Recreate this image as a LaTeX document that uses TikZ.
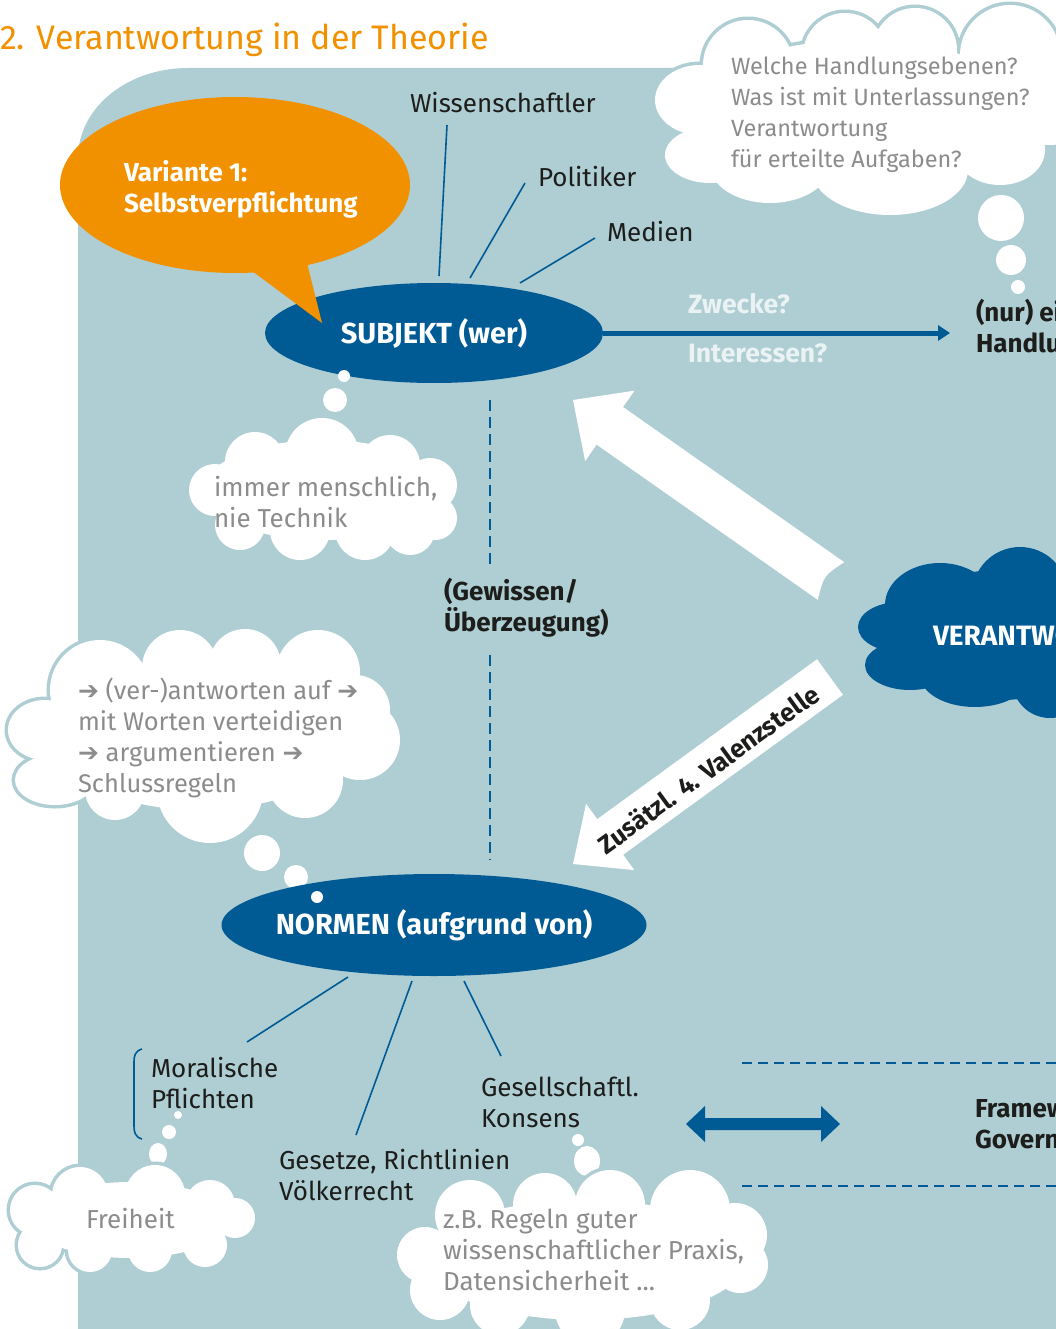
\documentclass[tikz,border=0pt]{standalone}
\usepackage{fontspec}
\setmainfont{Fira Sans}
\newfontfamily\arrowfont{DejaVu Sans}
\usetikzlibrary{shapes.geometric,arrows.meta,calc}
\definecolor{bgblue}{HTML}{AECED3}
\definecolor{dblue}{HTML}{005A94}
\definecolor{orng}{HTML}{F29100}
\definecolor{gtext}{HTML}{8C8C8C}
\definecolor{ltext}{HTML}{EAF2F4}
\definecolor{ink}{HTML}{1D1D1B}
\newcommand\wcloud[1]{%
  \foreach \cx/\cy/\rx/\ry in {#1}{\draw[bgblue,line width=7pt] (\cx,\cy) ellipse [x radius=\rx, y radius=\ry];}%
  \foreach \cx/\cy/\rx/\ry in {#1}{\fill[white] (\cx,\cy) ellipse [x radius=\rx, y radius=\ry];}%
}
\newcommand\bcloud[1]{%
  \foreach \cx/\cy/\rx/\ry in {#1}{\fill[dblue] (\cx,\cy) ellipse [x radius=\rx, y radius=\ry];}%
}
\newcommand\arr{{\arrowfont\fontsize{25}{31}\selectfont ➔}}
\begin{document}
\begin{tikzpicture}[x=1pt,y=-1pt,
  every node/.style={inner sep=0pt, outer sep=0pt},
  txt/.style={font=\fontsize{26}{31}\selectfont, align=left, text=ink},
  btxt/.style={font=\fontsize{26}{31}\selectfont\bfseries, align=left, text=ink},
  gtxt/.style={txt, text=gtext},
  conn/.style={draw=dblue, line width=1.6pt},
  dashline/.style={draw=dblue, line width=1.8pt, dash pattern=on 11pt off 6pt},
  oval/.style={ellipse, fill=dblue, text=white, inner xsep=-40pt, font=\fontsize{29}{31}\selectfont\bfseries},
]
\useasboundingbox (0,0) rectangle (1056,1329);
\clip (0,0) rectangle (1056,1329);

% background panel
\fill[bgblue] (78,1329) -- (78,158) .. controls (78,108) and (127,68) .. (188,68) -- (1056,68) -- (1056,1329) -- cycle;

% title
\node[anchor=base west, text=orng, font=\fontsize{34}{40}\selectfont] (title) at (0,50) {2. Verantwortung in der Theorie};

% top right thought cloud
\wcloud{860/110/165/70, 748/65/45/45, 845/55/42/42, 915/50/42/42, 1010/55/50/50, 700/100/45/35, 710/155/45/28, 770/165/60/38, 890/170/78/45, 1000/150/45/35, 1050/100/45/45}
\fill[white] (1001,218) circle [radius=23];
\fill[white] (1011,260) circle [radius=15];
\fill[white] (1018,287) circle [radius=7];
\node[gtxt, font=\fontsize{23.5}{31}\selectfont, anchor=base west] (q1) at (731,168) {Welche Handlungsebenen?\\Was ist mit Unterlassungen?\\Verantwortung\\für erteilte Aufgaben?};

% SUBJEKT
\node[oval, minimum width=338pt, minimum height=100pt] (subj) at (434,333) {SUBJEKT (wer)};

% orange speech bubble
\node[ellipse, fill=orng, minimum width=350pt, minimum height=176pt] (bubble) at (235,185) {};
\coordinate (tipA) at (240,262);
\coordinate (tipB) at (305,255);
\coordinate (tipC) at (322,323);
\fill[orng] (tipA) -- (tipC) -- (tipB) -- cycle;
\node[btxt, text=white, anchor=base west] (var) at (124,213) {Variante 1:\\Selbstverpflichtung};

% actor labels
\node[txt, anchor=base west] (wiss) at (410,113) {Wissenschaftler};
\node[txt, anchor=base west] (pol) at (538,187) {Politiker};
\node[txt, anchor=base west] (med) at (607,242) {Medien};
\coordinate (w1) at (439,276); \coordinate (w2) at (447,125);
\coordinate (p1) at (470,278); \coordinate (p2) at (525,183);
\coordinate (m1) at (520,283); \coordinate (m2) at (595,238);
\draw[conn] (w1) -- (w2);
\draw[conn] (p1) -- (p2);
\draw[conn] (m1) -- (m2);

% arrow to actions
\coordinate (nurE) at (950,333);
\draw[dblue, line width=5pt, -{Triangle[length=12pt,width=15pt]}] (subj.east) -- (nurE);
\node[btxt, font=\fontsize{26.5}{31}\selectfont\bfseries, text=ltext, anchor=base west] (zw) at (688,313) {Zwecke?};
\node[btxt, font=\fontsize{26.5}{31}\selectfont\bfseries, text=ltext, anchor=base west] (int) at (688,362) {Interessen?};
\node[btxt, anchor=base west] (nur) at (976,352) {(nur) eigene\\Handlungen};

% subject thought
\fill[white] (344,376) circle [radius=6];
\fill[white] (335,400) circle [radius=12];
\wcloud{323/490/120/50, 255/462/30/30, 322/455/37/37, 390/465/30/30, 215/490/26/26, 430/485/27/27, 435/518/22/22, 240/525/25/25, 300/530/30/30, 365/530/30/30, 410/530/25/25}
\node[gtxt, anchor=base west] (mensch) at (214,527) {immer menschlich,\\nie Technik};

% Gewissen dashed line
\coordinate (d1) at (490,400); \coordinate (d2) at (490,565);
\coordinate (d3) at (490,655); \coordinate (d4) at (490,860);
\draw[dashline] (d1) -- (d2);
\draw[dashline] (d3) -- (d4);
\node[btxt, anchor=base west] (gew) at (444,631) {(Gewissen/\\Überzeugung)};

% VERANTWORTUNG cloud
\bcloud{1000/635/110/65, 940/605/55/42, 1020/595/48/48, 900/627/42/25, 910/665/45/25, 975/675/55/32, 1050/680/38/38}
\node[font=\fontsize{28}{31}\selectfont\bfseries, text=white, anchor=base west] (ver) at (933,645) {VERANTWORTUNG};

% big white arrows
\coordinate (uT) at (573,400);
\coordinate (uM) at (831,581);
\coordinate (uB) at ($(uT)!45pt!(uM)$);
\fill[white] (uT) -- ($(uB)!43pt!90:(uT)$) -- ($(uB)!23pt!90:(uT)$) -- ($(uM)!23pt!90:(uT)$)
  .. controls ($(uM)!9pt!(uT)$) .. ($(uM)!23pt!-90:(uT)$) -- ($(uB)!23pt!-90:(uT)$) -- ($(uB)!43pt!-90:(uT)$) -- cycle;

\coordinate (lT) at (573,864);
\coordinate (lM) at (830,677);
\coordinate (lB) at ($(lT)!46pt!(lM)$);
\fill[white] (lT) -- ($(lB)!41pt!90:(lT)$) -- ($(lB)!22pt!90:(lT)$) -- ($(lM)!22pt!90:(lT)$)
  -- ($(lM)!22pt!-90:(lT)$) -- ($(lB)!22pt!-90:(lT)$) -- ($(lB)!41pt!-90:(lT)$) -- cycle;
\node[font=\fontsize{25.5}{26}\selectfont\bfseries, text=ink, rotate=36] (val) at (708,769) {Zusätzl. 4. Valenzstelle};

% left thought cloud
\wcloud{200/735/150/75, 100/690/50/50, 180/668/38/38, 245/665/36/36, 318/672/42/42, 355/710/35/35, 360/740/40/40, 45/730/37/30, 55/780/40/25, 115/790/30/30, 210/790/53/53, 305/780/38/38}
\fill[white] (262,853) circle [radius=18];
\fill[white] (296,877) circle [radius=12];
\node[gtxt, font=\fontsize{25.5}{31}\selectfont, anchor=base west] (arg) at (78,792) {\arr\ (ver-)antworten auf \arr\\mit Worten verteidigen\\\arr\ argumentieren \arr\\Schlussregeln};

% NORMEN
\node[oval, minimum width=425pt, minimum height=102pt] (norm) at (434,925) {NORMEN (aufgrund von)};
\fill[white] (317,897) circle [radius=6];

\node[txt, anchor=base west] (moral) at (151,1108) {Moralische\\Pflichten};
\node[txt, anchor=base west] (ges) at (279,1200) {Gesetze, Richtlinien\\Völkerrecht};
\node[txt, anchor=base west] (kons) at (481,1127) {Gesellschaftl.\\Konsens};
\coordinate (n1a) at (348,977); \coordinate (n1b) at (247,1042);
\coordinate (n2a) at (412,981); \coordinate (n2b) at (356,1135);
\coordinate (n3a) at (464,981); \coordinate (n3b) at (501,1056);
\draw[conn] (n1a) -- (n1b);
\draw[conn] (n2a) -- (n2b);
\draw[conn] (n3a) -- (n3b);
\coordinate (brT) at (142,1049); \coordinate (brB) at (142,1139);
\draw[conn] (brT) .. controls (135,1051) and (134,1056) .. (134,1062) -- (134,1126) .. controls (134,1132) and (135,1137) .. (brB);

% Freiheit cloud
\fill[white] (178,1115) circle [radius=4];
\fill[white] (169,1132) circle [radius=7];
\fill[white] (158,1154) ellipse [x radius=9, y radius=11];
\wcloud{130/1220/100/38, 80/1195/28/28, 155/1195/30/30, 210/1205/25/25, 235/1218/20/20, 35/1210/25/25, 40/1245/22/22, 90/1250/22/22, 150/1250/22/22, 205/1245/22/22}
\node[gtxt, anchor=base west] (frei) at (86,1228) {Freiheit};

% z.B. cloud
\fill[white] (578,1140) circle [radius=6];
\fill[white] (587,1161) ellipse [x radius=13, y radius=15];
\wcloud{585/1260/160/60, 470/1215/35/35, 545/1205/32/32, 610/1205/35/35, 690/1210/40/40, 735/1235/32/32, 425/1255/28/28, 440/1290/30/30, 740/1265/28/28, 500/1305/30/30, 590/1310/35/35, 680/1300/30/30}
\node[gtxt, anchor=base west] (zb) at (443,1290) {z.B. Regeln guter\\wissenschaftlicher Praxis,\\Datensicherheit ...};

% double arrow and framework
\coordinate (dal) at (686,1124);
\coordinate (dar) at (840,1124);
\fill[dblue] (dal) -- (705,1106) -- (705,1118) -- (821,1118) -- (821,1106) -- (dar) -- (821,1142) -- (821,1130) -- (705,1130) -- (705,1142) -- cycle;
\coordinate (h1a) at (742,1063); \coordinate (h1b) at (1056,1063);
\coordinate (h2a) at (742,1186); \coordinate (h2b) at (1056,1186);
\draw[dashline, dash pattern=on 10pt off 6pt] (h1a) -- (h1b);
\draw[dashline, dash pattern=on 10pt off 6pt] (h2a) -- (h2b);
\node[btxt, anchor=base west] (frame) at (975,1148) {Framework\\Governance};
\end{tikzpicture}
\end{document}
